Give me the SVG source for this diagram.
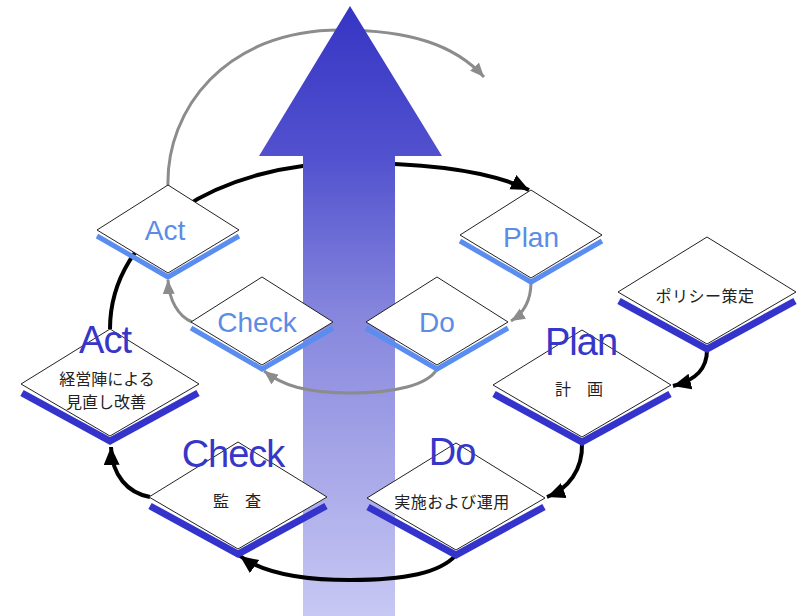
<svg xmlns="http://www.w3.org/2000/svg" xmlns:xlink="http://www.w3.org/1999/xlink" width="804" height="616" viewBox="0 0 804 616">
  <style>
    .bk { fill: none; stroke: #000; stroke-width: 4; }
    .gy { fill: none; stroke: #8c8c8c; stroke-width: 3; }
    .dia { fill: #fff; stroke: #222; stroke-width: 1; }
    .bandS { fill: none; stroke: #5a8def; stroke-width: 5; }
    .bandL { fill: none; stroke: #3434cc; stroke-width: 7; }
    .lblS { font-family: "Liberation Sans", Arial, sans-serif; font-size: 28px; fill: #5b8ce6; text-anchor: middle; }
    .lblL { font-family: "Liberation Sans", Arial, sans-serif; font-size: 38px; fill: #3636c8; text-anchor: middle; letter-spacing: -1px; }
    .jp { font-family: "Noto Sans CJK JP", "Noto Sans CJK SC", sans-serif; font-size: 16px; fill: #222; text-anchor: middle; }
  </style>
  <defs>
    <linearGradient id="arrowGrad" x1="0" y1="6" x2="0" y2="616" gradientUnits="userSpaceOnUse">
      <stop offset="0" stop-color="#3535c4"/>
      <stop offset="0.25" stop-color="#5252cf"/>
      <stop offset="0.5" stop-color="#8585dd"/>
      <stop offset="1" stop-color="#c8c8f4"/>
    </linearGradient>
    <marker id="ahB" markerUnits="userSpaceOnUse" markerWidth="20" markerHeight="18" refX="18" refY="8" orient="auto">
      <path d="M0,0 L18,8 L0,16 Z" fill="#000"/>
    </marker>
    <marker id="ahG" markerUnits="userSpaceOnUse" markerWidth="16" markerHeight="14" refX="14" refY="6" orient="auto">
      <path d="M0,0 L14,6 L0,12 Z" fill="#8c8c8c"/>
    </marker>
    <g id="smallShape">
      <polyline class="bandS" points="-71,6 0,47 71,6"/>
      <polygon class="dia" points="-71,0 0,-45 71,0 0,43"/>
    </g>
    <g id="largeShape">
      <polyline class="bandL" points="-88,9 0,57 88,9"/>
      <polygon class="dia" points="-89,0 0,-55 89,0 0,52"/>
    </g>
  </defs>

  <rect width="804" height="616" fill="#fff"/>

  <g id="connectors-back">
    <path class="bk" d="M110,329 C110,230 220,163 350,163 C430,163 492,172 529,190" marker-end="url(#ahB)"/>
    <path class="gy" d="M168,186 C166,110 225,30 340,30 C410,30 455,45 484,77" marker-end="url(#ahG)"/>
  </g>

  <g id="big-arrow">
    <path d="M350,6 L442,156 L395,156 L395,616 L303,616 L303,156 L259,156 Z" fill="url(#arrowGrad)"/>
  </g>

  <g id="connectors">
    <path class="gy" d="M531,282 C531,300 524,313 511,321" marker-end="url(#ahG)"/>
    <path class="gy" d="M437,369 C428,385 395,393 350,393 C305,393 282,385 264,371" marker-end="url(#ahG)"/>
    <path class="gy" d="M192,322 C178,316 169,300 168,280" marker-end="url(#ahG)"/>
    <path class="bk" d="M707,350 C707,368 697,380 673,386" marker-end="url(#ahB)"/>
    <path class="bk" d="M582,443 C583,470 568,489 547,497" marker-end="url(#ahB)"/>
    <path class="bk" d="M456,555 C440,573 405,580 350,580 C300,580 262,572 240,556" marker-end="url(#ahB)"/>
    <path class="bk" d="M150,497 C128,493 112,476 111,447" marker-end="url(#ahB)"/>
  </g>

  <g id="act-small">
    <use xlink:href="#smallShape" transform="translate(168,230)"/>
    <text class="lblS" x="165" y="240">Act</text>
  </g>
  <g id="plan-small">
    <use xlink:href="#smallShape" transform="translate(531,235)"/>
    <text class="lblS" x="531" y="247">Plan</text>
  </g>
  <g id="check-small">
    <use xlink:href="#smallShape" transform="translate(262,322)"/>
    <text class="lblS" x="257" y="332">Check</text>
  </g>
  <g id="do-small">
    <use xlink:href="#smallShape" transform="translate(437,322)"/>
    <text class="lblS" x="437" y="332">Do</text>
  </g>

  <g id="policy">
    <use xlink:href="#largeShape" transform="translate(707,292)"/>
    <text class="jp" x="705" y="302" letter-spacing="0.5">ポリシー策定</text>
  </g>
  <g id="plan-large">
    <use xlink:href="#largeShape" transform="translate(582,385)"/>
    <text class="lblL" x="581" y="355">Plan</text>
    <text class="jp" x="579" y="395">計　画</text>
  </g>
  <g id="do-large">
    <use xlink:href="#largeShape" transform="translate(456,498)"/>
    <text class="lblL" x="452" y="465">Do</text>
    <text class="jp" x="452" y="508" letter-spacing="0.5">実施および運用</text>
  </g>
  <g id="check-large">
    <use xlink:href="#largeShape" transform="translate(238,497)"/>
    <text class="lblL" x="233" y="467">Check</text>
    <text class="jp" x="237" y="507">監　査</text>
  </g>
  <g id="act-large">
    <use xlink:href="#largeShape" transform="translate(110,384)"/>
    <text class="lblL" x="105" y="353">Act</text>
    <text class="jp" x="107" y="385">経営陣による</text>
    <text class="jp" x="106" y="408">見直し改善</text>
  </g>
</svg>
